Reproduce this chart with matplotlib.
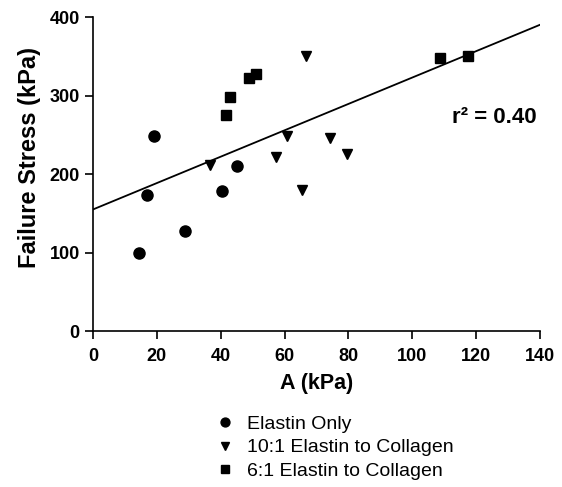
import numpy as np
import matplotlib
matplotlib.use("Agg")
import matplotlib.pyplot as plt

plt.rcParams['font.family'] = ['Liberation Sans', 'DejaVu Sans']

# data
elastin_x = [14.5, 17.0, 19.2, 28.9, 40.5, 45.1]
elastin_y = [99, 174, 249, 128, 178, 210]

ratio10_x = [36.7, 57.4, 60.8, 65.6, 66.7, 74.1, 79.4]
ratio10_y = [211, 222, 248, 180, 350, 246, 226]

ratio6_x = [41.5, 42.9, 48.8, 51.1, 108.7, 117.5]
ratio6_y = [275, 298, 322, 328, 348, 350]

fit_intercept = 155
fit_slope = 1.68
r2_label = "r\u00b2 = 0.40"

series_labels = ["Elastin Only", "10:1 Elastin to Collagen", "6:1 Elastin to Collagen"]

fig = plt.figure(figsize=(5.62, 4.87), dpi=100)
ax = fig.add_axes([0.1655, 0.320, 0.7955, 0.645])

h1, = ax.plot(elastin_x, elastin_y, 'o', color='black', markersize=8, linestyle='none')
h2, = ax.plot(ratio10_x, ratio10_y, 'v', color='black', markersize=7.5, linestyle='none')
h3, = ax.plot(ratio6_x, ratio6_y, 's', color='black', markersize=6.5, linestyle='none')

xs = np.array([0, 140])
ax.plot(xs, fit_intercept + fit_slope * xs, color='black', linewidth=1.3)

ax.text(139, 272, r2_label, ha='right', va='center', fontsize=16, fontweight='bold')

ax.set_xlim(0, 140)
ax.set_ylim(0, 400)
ax.set_xticks(np.arange(0, 141, 20))
ax.set_yticks(np.arange(0, 401, 100))
for s in ['top', 'right']:
    ax.spines[s].set_visible(False)
for s in ['left', 'bottom']:
    ax.spines[s].set_linewidth(1.2)
ax.tick_params(direction='out', length=6, width=1.2, labelsize=13)
ax.tick_params(axis='x', pad=6)
for lbl in ax.get_xticklabels() + ax.get_yticklabels():
    lbl.set_fontweight('bold')

ax.set_xlabel("A (kPa)", fontsize=15.5, fontweight='bold', labelpad=6)
ax.set_ylabel("Failure Stress (kPa)", fontsize=17, fontweight='bold')
ax.yaxis.set_label_coords(-0.117, 0.554)

fig.legend([h1, h2, h3], series_labels, loc='upper left',
           bbox_to_anchor=(0.3675, 0.163), frameon=False, fontsize=14,
           handlelength=1.15, handletextpad=0.55, labelspacing=0.3,
           borderaxespad=0, markerscale=0.8)

fig.savefig("out.png", dpi=100)
